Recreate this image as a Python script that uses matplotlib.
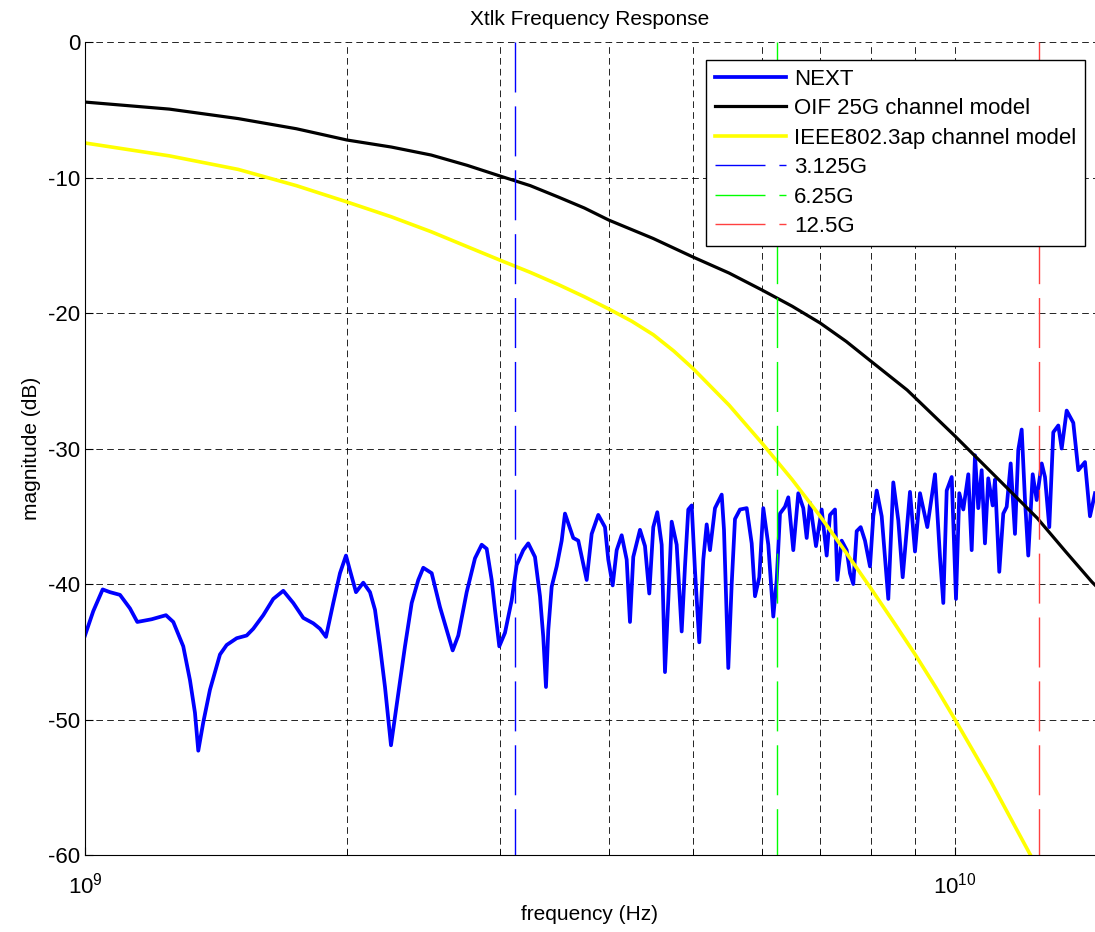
import numpy as np
from matplotlib import pyplot as plt

plt.rcParams['font.family'] = ['Liberation Sans', 'DejaVu Sans']
plt.rcParams['axes.unicode_minus'] = False

# frequencies in GHz, magnitudes in dB
next_f = [1.0000, 1.0222, 1.0480, 1.0684, 1.0971, 1.1265, 1.1485, 1.1931, 1.2391, 1.2633,
          1.2971, 1.3204, 1.3379, 1.3497, 1.3677, 1.3921, 1.4295, 1.4550, 1.4941, 1.5341,
          1.5612, 1.6030, 1.6460, 1.6902, 1.7355, 1.7821, 1.8299, 1.8626, 1.8924, 1.9293,
          1.9639, 1.9953, 2.0166, 2.0489, 2.0888, 2.1262, 2.1545, 2.1832, 2.2123, 2.2477,
          2.2916, 2.3325, 2.3743, 2.4161, 2.4483, 2.5033, 2.5589, 2.6047, 2.6464, 2.6859,
          2.7463, 2.8073, 2.8575, 2.8956, 2.9341, 2.9599, 2.9938, 3.0392, 3.0936, 3.1348,
          3.1900, 3.2325, 3.2904, 3.3342, 3.3634, 3.3876, 3.4083, 3.4391, 3.4849, 3.5313,
          3.5623, 3.6414, 3.6899, 3.7729, 3.8231, 3.8905, 3.9601, 3.9948, 4.0416, 4.0847,
          4.1391, 4.1942, 4.2310, 4.2681, 4.3445, 4.4024, 4.4528, 4.5002, 4.5481, 4.6013,
          4.6417, 4.6824, 4.7247, 4.7877, 4.8514, 4.8940, 4.9369, 4.9816, 5.0253, 5.0828,
          5.1369, 5.1834, 5.2288, 5.2985, 5.3934, 5.4263, 5.4884, 5.5380, 5.5866, 5.6610,
          5.7623, 5.8391, 5.8903, 5.9577, 6.0211, 6.1013, 6.1826, 6.2385, 6.2932, 6.3770,
          6.4330, 6.5187, 6.6055, 6.6935, 6.7540, 6.8132, 6.9223, 7.0273, 7.1210, 7.1834,
          7.2791, 7.3235, 7.4093, 7.5080, 7.5739, 7.6403, 7.7094, 7.7915, 7.8809, 7.9858,
          8.0559, 8.1287, 8.2370, 8.3822, 8.4938, 8.6070, 8.7077, 8.8777, 8.9960, 9.1158,
          9.2937, 9.4851, 9.6114, 9.6957, 9.7834, 9.9137, 10.027, 10.115, 10.223, 10.359,
          10.452, 10.544, 10.636, 10.732, 10.826, 10.921, 11.049, 11.117, 11.244, 11.364,
          11.467, 11.589, 11.721, 11.824, 11.931, 12.036, 12.141, 12.284, 12.414, 12.580,
          12.690, 12.835, 12.972, 13.145, 13.264, 13.440, 13.677, 13.859, 14.107, 14.295,
          14.486]
next_db = [-43.8, -42.0, -40.4, -40.6, -40.8, -41.8, -42.8, -42.6, -42.3, -42.8,
           -44.6, -47.1, -49.5, -52.3, -50.2, -47.8, -45.2, -44.5, -44.0, -43.8,
           -43.3, -42.3, -41.1, -40.5, -41.4, -42.5, -42.9, -43.3, -43.9, -41.4,
           -39.2, -37.9, -39.0, -40.6, -39.9, -40.6, -41.9, -44.6, -47.6, -51.9,
           -48.1, -44.6, -41.4, -39.7, -38.8, -39.2, -41.7, -43.4, -44.9, -43.8,
           -40.6, -38.1, -37.1, -37.4, -39.7, -41.9, -44.6, -43.6, -41.2, -38.6,
           -37.5, -37.0, -38.0, -40.9, -43.9, -47.6, -43.4, -40.2, -38.7, -36.8,
           -34.8, -36.6, -36.8, -39.7, -36.3, -34.9, -35.8, -38.2, -40.1, -37.5,
           -36.4, -38.2, -42.8, -38.0, -36.0, -37.2, -40.7, -35.8, -34.7, -37.1,
           -46.5, -41.2, -35.4, -37.1, -43.5, -38.7, -34.5, -34.2, -39.0, -44.3,
           -38.2, -35.6, -37.5, -34.4, -33.4, -36.0, -46.2, -40.0, -35.2, -34.5,
           -34.4, -37.0, -40.9, -39.5, -34.4, -37.1, -42.4, -39.7, -34.8, -34.3,
           -33.6, -37.5, -33.3, -34.4, -36.6, -34.0, -37.2, -34.5, -37.9, -34.9,
           -34.5, -39.7, -36.8, -37.5, -39.2, -40.0, -36.1, -35.8, -36.8, -38.7,
           -35.0, -33.1, -35.0, -41.1, -32.5, -35.3, -39.5, -33.2, -37.6, -33.3,
           -35.8, -31.9, -38.0, -41.4, -33.1, -32.1, -41.1, -33.3, -34.5, -31.9,
           -37.5, -30.5, -34.4, -31.6, -37.0, -32.2, -34.2, -32.3, -39.1, -34.8,
           -34.3, -31.1, -36.3, -30.1, -28.6, -33.8, -37.9, -31.9, -33.8, -31.1,
           -32.1, -35.8, -28.8, -28.3, -30.0, -27.2, -28.1, -31.6, -31.0, -35.0,
           -33.3]

oif_f = [1, 1.25, 1.5, 1.75, 2, 2.25, 2.5, 2.75, 3, 3.25, 3.5, 3.75, 4, 4.5,
         5, 5.5, 6, 6.5, 7, 7.5, 8, 8.81, 10, 11.27, 12.43, 13.4, 14.37, 14.5]
oif_db = [-4.43, -4.95, -5.65, -6.4, -7.23, -7.75, -8.34, -9.1, -9.89, -10.6,
          -11.44, -12.25, -13.14, -14.5, -15.87, -17.05, -18.3, -19.5, -20.74, -22.1,
          -23.54, -25.68, -29.08, -32.4, -35.13, -37.6, -39.85, -40.1]

ieee_f = [1, 1.25, 1.5, 1.75, 2, 2.25, 2.5, 2.75, 3, 3.25, 3.5, 3.75, 4, 4.25,
          4.5, 4.75, 5, 5.5, 6, 6.5, 7, 7.5, 8, 8.5, 9, 9.5, 10, 11, 12, 12.5]
ieee_db = [-7.45, -8.4, -9.4, -10.6, -11.8, -12.9, -14.0, -15.1, -16.1, -17.0,
           -17.9, -18.8, -19.7, -20.6, -21.6, -22.8, -24.1, -26.8, -29.6, -32.3,
           -35.0, -37.7, -40.3, -42.8, -45.2, -47.6, -50.0, -54.6, -59.1, -61.2]

marker_f = [3.125, 6.25, 12.5]
marker_labels = ['3.125G', '6.25G', '12.5G']
marker_colors = ['#0000ff', '#00ff00', '#ff4040']

fig = plt.figure(figsize=(10.95, 9.32), dpi=100)
ax = fig.add_axes([0.0776, 0.0826, 0.9224, 0.8723])

ax.semilogx(np.array(next_f) * 1e9, next_db, color='#0000ff', lw=2.7, label='NEXT')
ax.semilogx(np.array(oif_f) * 1e9, oif_db, color='k', lw=2.3, label='OIF 25G channel model')
ax.semilogx(np.array(ieee_f) * 1e9, ieee_db, color='#ffff00', lw=2.6, label='IEEE802.3ap channel model')

# data-rate markers
for f, lab, c in zip(marker_f, marker_labels, marker_colors):
    ax.plot([f * 1e9, f * 1e9], [0, -60], color=c, lw=1.0, dashes=(36, 10), label=lab)

ax.set_xlim(1e9, 1.4486e10)
ax.set_ylim(-60, 0)
ax.set_yticks([-60, -50, -40, -30, -20, -10, 0])

ax.grid(True, which='both', axis='x', color='k', lw=0.6, dashes=(8, 5))
ax.grid(True, which='major', axis='y', color='k', lw=0.6, dashes=(8, 5))

ax.spines['top'].set_visible(False)
ax.spines['right'].set_visible(False)
ax.tick_params(which='both', direction='in', labelsize=16)
ax.tick_params(which='major', length=6)
ax.tick_params(which='minor', length=4)
ax.tick_params(axis='x', pad=13)

ax.set_title('Xtlk Frequency Response', fontsize=15, pad=12)
ax.set_xlabel('frequency (Hz)', fontsize=15, labelpad=4)
ax.set_ylabel('magnitude (dB)', fontsize=15, labelpad=5)

leg = ax.legend(loc='upper right', bbox_to_anchor=(0.990, 0.978), borderaxespad=0,
                fontsize=16, handlelength=3.2, labelspacing=0.38, handletextpad=0.35,
                fancybox=False, framealpha=1, edgecolor='k', borderpad=0.4)
leg.get_frame().set_linewidth(1.0)

fig.savefig('out.png', dpi=100)
